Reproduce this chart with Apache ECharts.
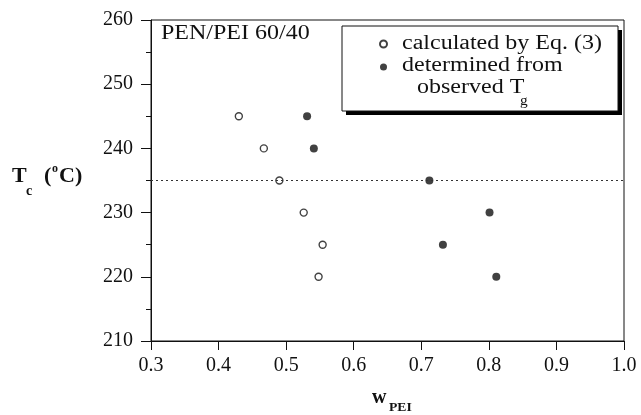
<!DOCTYPE html>
<html>
<head>
<meta charset="utf-8">
<script src="https://cdn.jsdelivr.net/npm/echarts@6/dist/echarts.min.js"></script>
<style>html,body{margin:0;padding:0;background:#fff;}#c{width:641px;height:415px;}</style>
</head>
<body>
<div id="c"></div>
<script>
// Data
var tcValues = [245, 240, 235, 230, 225, 220];
var calcW = [0.430, 0.467, 0.490, 0.526, 0.554, 0.548];   // calculated by Eq. (3)
var obsW  = [0.531, 0.541, 0.712, 0.801, 0.732, 0.811];   // determined from observed Tg
var refTc = 235;
var xTicks = [0.3, 0.4, 0.5, 0.6, 0.7, 0.8, 0.9, 1.0];
var yTicks = [210, 220, 230, 240, 250, 260];

var serif = '"Liberation Serif", "Times New Roman", serif';
var ink = '#111';

var chart = echarts.init(document.getElementById('c'), null, {renderer: 'canvas'});
var calcData = calcW.map(function (w, i) { return [w, tcValues[i]]; });
var obsData = obsW.map(function (w, i) { return [w, tcValues[i]]; });

function txt(x, y, s, size, bold, sx, align) {
  return {
    type: 'text', x: x, y: y, scaleX: sx || 1, z: 10,
    style: {
      text: s, fill: ink, font: (bold ? 'bold ' : '') + size + 'px ' + serif,
      textAlign: align || 'left', textVerticalAlign: 'middle'
    }
  };
}

chart.setOption({
  animation: false,
  backgroundColor: '#fff',
  grid: {left: 151, right: 17, top: 20, bottom: 74, show: true, borderColor: ink, borderWidth: 1},
  xAxis: {
    type: 'value', min: xTicks[0], max: xTicks[xTicks.length - 1], interval: 0.1,
    axisLine: {lineStyle: {color: ink, width: 1}},
    axisTick: {length: 9, lineStyle: {color: ink}},
    splitLine: {show: false},
    axisLabel: {color: ink, fontFamily: serif, fontSize: 20, margin: 15,
      formatter: function (v) { return v.toFixed(1); }}
  },
  yAxis: {
    type: 'value', min: yTicks[0], max: yTicks[yTicks.length - 1], interval: 10,
    axisLine: {show: true, lineStyle: {color: ink, width: 1}},
    axisTick: {show: true, length: 10, lineStyle: {color: ink}},
    minorTick: {show: true, splitNumber: 2, length: 5, lineStyle: {color: ink}},
    splitLine: {show: false},
    axisLabel: {color: ink, fontFamily: serif, fontSize: 20, margin: 18}
  },
  legend: {
    orient: 'vertical', left: 379, top: 38, padding: 0,
    itemWidth: 7, itemHeight: 7, itemGap: 11, icon: 'circle',
    textStyle: {fontSize: 12, lineHeight: 12},
    formatter: function () { return ' '; },
    selectedMode: false, z: 11,
    data: ['calculated by Eq. (3)', 'determined from observed Tg']
  },
  series: [
    {
      name: 'calculated by Eq. (3)', type: 'scatter', data: calcData,
      symbol: 'circle', symbolSize: 7,
      itemStyle: {color: '#fff', borderColor: ink, borderWidth: 1.4},
      z: 3,
      markLine: {
        silent: true, symbol: ['none', 'none'], label: {show: false},
        lineStyle: {color: '#333', width: 1, type: [2, 3]},
        data: [{yAxis: refTc}]
      }
    },
    {
      name: 'determined from observed Tg', type: 'scatter', data: obsData,
      symbol: 'circle', symbolSize: 8,
      itemStyle: {color: ink, borderColor: ink, borderWidth: 0},
      z: 3
    }
  ],
  graphic: [
    {
      type: 'rect', z: 4,
      shape: {x: 346, y: 30, width: 276, height: 85},
      style: {fill: '#000', stroke: null}
    },
    {
      type: 'rect', z: 5,
      shape: {x: 342, y: 26, width: 276, height: 85},
      style: {fill: '#fff', stroke: ink, lineWidth: 1}
    },
    txt(161, 34, 'PEN/PEI 60/40', 20, false, 1.2),
    txt(402, 44, 'calculated by Eq. (3)', 20, false, 1.2),
    txt(402, 66, 'determined from', 20, false, 1.2),
    txt(417, 88, 'observed T', 20, false, 1.2),
    txt(520, 101, 'g', 14, false, 1.1),
    // y-axis title  T_c (°C)
    txt(12, 176, 'T', 22, true, 1.0),
    txt(26, 191, 'c', 14, true, 1.0),
    txt(44, 176, '(', 22, true, 1.0),
    txt(52, 169, 'o', 12, true, 1.0),
    txt(59, 176, 'C)', 22, true, 1.0),
    // x-axis title  w_PEI
    txt(372, 398, 'w', 20, true, 1.0),
    txt(389, 408, 'PEI', 13, true, 1.05)
  ]
});
</script>
</body>
</html>
